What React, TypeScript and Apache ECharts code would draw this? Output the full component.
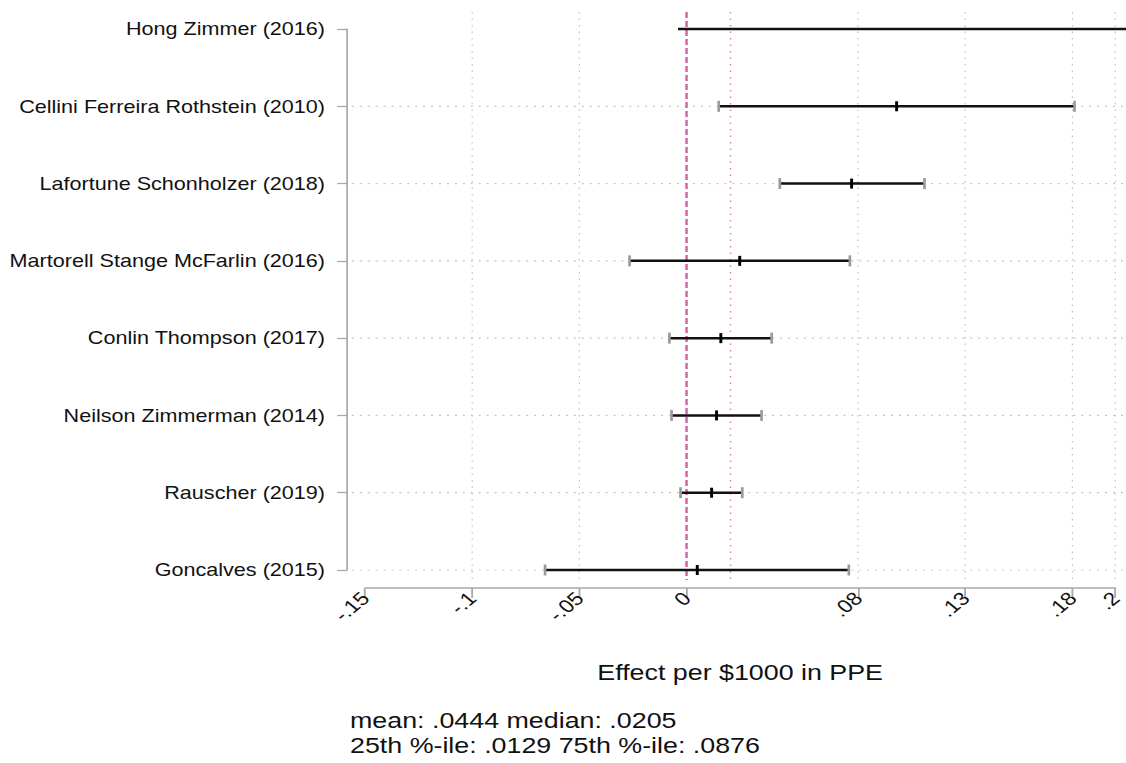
import React, { useEffect, useRef } from "react";
import * as echarts from "echarts";

// Studies, top to bottom
const studies = [
  "Hong Zimmer (2016)",
  "Cellini Ferreira Rothstein (2010)",
  "Lafortune Schonholzer (2018)",
  "Martorell Stange McFarlin (2016)",
  "Conlin Thompson (2017)",
  "Neilson Zimmerman (2014)",
  "Rauscher (2019)",
  "Goncalves (2015)",
];

// Confidence interval bounds and point estimates (effect per $1000 in PPE)
const lower = [-0.004, 0.015, 0.0435, -0.0266, -0.008, -0.007, -0.0028, -0.066];
const estimate: (number | null)[] = [null, 0.098, 0.077, 0.0248, 0.016, 0.014, 0.0117, 0.005];
const upper = [0.25, 0.181, 0.111, 0.0762, 0.0397, 0.035, 0.026, 0.0757];

// Axis ticks and reference lines
const xTicks = [-0.15, -0.1, -0.05, 0, 0.08, 0.13, 0.18, 0.2];
const xGridValues = [-0.1, -0.05, 0.08, 0.13, 0.18, 0.2];
const xMin = -0.15;
const xMax = 0.2;
const medianValue = 0.0205;

const statsLines = [
  "mean: .0444 median: .0205",
  "25th %-ile: .0129 75th %-ile: .0876",
];

// The figure is laid out in a narrower space and widened horizontally.
const STRETCH = 1.22;
const PAGE_W = 1126;
const PAGE_H = 763;
const W = PAGE_W / STRETCH;

const FONT = "'Liberation Sans', Arial, Helvetica, sans-serif";
const AXIS_GREY = "#a9a9a9";
const GRID_GREY = "#c2c2c2";
const PINK = "#d4629f";

const fmtTick = (v: number) => {
  if (Math.abs(v) < 1e-12) return "0";
  return String(+v.toFixed(3)).replace("0.", ".");
};

export default function App() {
  const ref = useRef<HTMLDivElement>(null);

  useEffect(() => {
    if (!ref.current) return;
    const chart = echarts.init(ref.current, null, { renderer: "svg" });

    const gridLeft = 365 / STRETCH;
    const gridRight = W - 1116 / STRETCH;
    const axisOffsetX = 18 / STRETCH;

    const barData = studies.map((_, i) => [i, lower[i], estimate[i], upper[i]]);

    const option: any = {
      animation: false,
      backgroundColor: "#ffffff",
      grid: {
        left: gridLeft,
        right: gridRight,
        top: 29,
        bottom: PAGE_H - 570,
        containLabel: false,
      },
      xAxis: {
        type: "value",
        min: xMin,
        max: xMax,
        offset: 18,
        name: "Effect per $1000 in PPE",
        nameLocation: "middle",
        nameGap: 73,
        nameTextStyle: { fontFamily: FONT, fontSize: 22, color: "#111" },
        axisLine: { show: true, onZero: false, lineStyle: { color: AXIS_GREY, width: 1.6 } },
        axisTick: {
          show: true,
          length: 10,
          customValues: xTicks,
          lineStyle: { color: AXIS_GREY, width: 1.5 },
        },
        axisLabel: {
          customValues: xTicks,
          rotate: 45,
          margin: 7,
          fontFamily: FONT,
          fontSize: 18.5,
          color: "#111",
          formatter: (v: number) => fmtTick(v),
        },
        splitLine: { show: false },
      },
      yAxis: {
        type: "category",
        data: studies,
        inverse: true,
        boundaryGap: false,
        offset: axisOffsetX,
        axisLine: { show: true, onZero: false, lineStyle: { color: AXIS_GREY, width: 1.4 } },
        axisTick: {
          show: true,
          length: 8,
          alignWithLabel: true,
          lineStyle: { color: AXIS_GREY, width: 1.3 },
        },
        axisLabel: {
          margin: 18,
          fontFamily: FONT,
          fontSize: 17.7,
          color: "#111",
        },
        splitLine: { show: false },
      },
      graphic: [
        {
          type: "text",
          left: 350 / STRETCH,
          top: 708,
          style: {
            text: statsLines.join("\n"),
            fontFamily: FONT,
            fontSize: 22,
            lineHeight: 25,
            fill: "#111",
          },
        },
      ],
      series: [
        {
          // dotted grid and reference lines
          type: "custom",
          silent: true,
          z: 1,
          data: [[0, 0]],
          encode: { x: 1, y: 0 },
          renderItem: (params: any, api: any) => {
            const cs = params.coordSys;
            const top = 12;
            const bottom = 580;
            const children: any[] = [];
            xGridValues.forEach((v) => {
              const x = api.coord([v, 0])[0];
              children.push({
                type: "line",
                shape: { x1: x, y1: top, x2: x, y2: bottom },
                style: { stroke: GRID_GREY, lineWidth: 1, lineDash: [1.5, 5] },
              });
            });
            studies.forEach((_, i) => {
              if (i === 0) return;
              const y = api.coord([0, i])[1];
              children.push({
                type: "line",
                shape: { x1: cs.x - axisOffsetX + 4, y1: y, x2: W, y2: y },
                style: { stroke: GRID_GREY, lineWidth: 1.2, lineDash: [1.5, 5] },
              });
            });
            const x0 = api.coord([0, 0])[0];
            children.push({
              type: "line",
              shape: { x1: x0, y1: top, x2: x0, y2: bottom },
              style: { stroke: PINK, lineWidth: 2, lineDash: [6, 3] },
            });
            const xm = api.coord([medianValue, 0])[0];
            children.push({
              type: "line",
              shape: { x1: xm, y1: top, x2: xm, y2: bottom },
              style: { stroke: "#e07ab4", lineWidth: 1.2, lineDash: [1.5, 5] },
            });
            return { type: "group", children };
          },
        },
        {
          // confidence intervals with caps and point estimates
          type: "custom",
          z: 5,
          data: barData,
          encode: { x: [1, 3], y: 0 },
          renderItem: (_params: any, api: any) => {
            const i = api.value(0);
            const lo = api.value(1);
            const est = api.value(2);
            const hi = api.value(3);
            const p0 = api.coord([lo, i]);
            const p1 = api.coord([hi, i]);
            const y = p0[1];
            const children: any[] = [
              {
                type: "line",
                shape: { x1: p0[0], y1: y, x2: p1[0], y2: y },
                style: { stroke: "#111", lineWidth: 2.5 },
              },
            ];
            if (est != null && !isNaN(est)) {
              [p0[0], p1[0]].forEach((cx) => {
                children.push({
                  type: "line",
                  shape: { x1: cx, y1: y - 5.5, x2: cx, y2: y + 5.5 },
                  style: { stroke: "#9a9a9a", lineWidth: 2.2 },
                });
              });
              const pe = api.coord([est, i]);
              children.push({
                type: "line",
                shape: { x1: pe[0], y1: y - 5, x2: pe[0], y2: y + 5 },
                style: { stroke: "#000", lineWidth: 2.4 },
              });
            }
            return { type: "group", children };
          },
        },
      ],
    };

    chart.setOption(option);
    return () => chart.dispose();
  }, []);

  return (
    <div
      style={{
        position: "absolute",
        left: 0,
        top: 0,
        width: PAGE_W,
        height: PAGE_H,
        overflow: "hidden",
        background: "#fff",
      }}
    >
      <div
        ref={ref}
        style={{
          width: W,
          height: PAGE_H,
          transform: `scaleX(${STRETCH})`,
          transformOrigin: "0 0",
        }}
      />
    </div>
  );
}
